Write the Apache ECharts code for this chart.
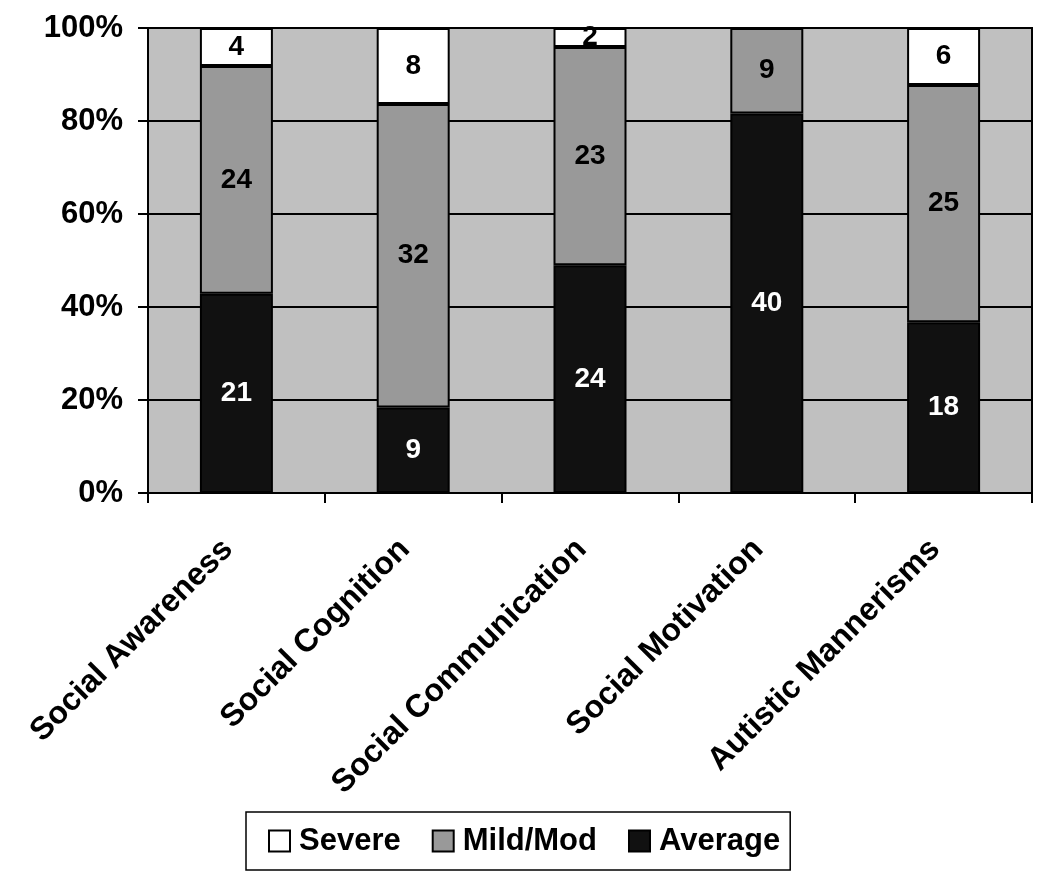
<!DOCTYPE html>
<html>
<head>
<meta charset="utf-8">
<script src="https://cdn.jsdelivr.net/npm/echarts@6/dist/echarts.min.js"></script>
<style>html,body{margin:0;padding:0;background:#fff}#c{width:1050px;height:887px}</style>
</head>
<body>
<div id="c"></div>
<script>
const categories = ['Social Awareness', 'Social Cognition', 'Social Communication', 'Social Motivation', 'Autistic Mannerisms'];
const averageCounts = [21, 9, 24, 40, 18];
const mildModCounts = [24, 32, 23, 9, 25];
const severeCounts = [4, 8, 2, 0, 6];
const yTicks = [0, 20, 40, 60, 80, 100];

const totals = categories.map((_, i) => averageCounts[i] + mildModCounts[i] + severeCounts[i]);
const toPct = arr => arr.map((v, i) => ({ value: v / totals[i] * 100, count: v }));

const FONT = '"Liberation Sans", Arial, sans-serif';
const chart = echarts.init(document.getElementById('c'), null, { renderer: 'canvas' });

function series(name, counts, color, labelColor) {
  return {
    name, type: 'bar', stack: 'total',
    data: toPct(counts),
    barWidth: 73,
    itemStyle: { color, borderColor: '#000', borderWidth: 2 },
    label: {
      show: true, position: 'inside', color: labelColor,
      fontFamily: FONT, fontWeight: 'bold', fontSize: 28,
      formatter: p => p.data.count ? String(p.data.count) : ''
    },
    emphasis: { disabled: true },
    animation: false
  };
}

chart.setOption({
  animation: false,
  backgroundColor: '#fff',
  grid: {
    left: 148, right: 18, top: 28, bottom: 394,
    show: true, backgroundColor: '#c0c0c0', borderColor: '#000', borderWidth: 2
  },
  legend: {
    data: ['Severe', 'Mild/Mod', 'Average'],
    left: 246, top: 812,
    orient: 'horizontal',
    backgroundColor: '#fff',
    borderColor: '#000', borderWidth: 1.5,
    padding: [10, 10, 10, 22],
    itemWidth: 21, itemHeight: 21, itemGap: 31,
    icon: 'rect',
    textStyle: { fontFamily: FONT, fontWeight: 'bold', fontSize: 31, color: '#000', padding: [6, 0, 0, 4], lineHeight: 32 },
    itemStyle: { borderColor: '#000', borderWidth: 2 }
  },
  xAxis: {
    type: 'category', data: categories,
    axisLine: { lineStyle: { color: '#000', width: 2 } },
    axisTick: { show: true, length: 10, lineStyle: { color: '#000', width: 2 } },
    axisLabel: {
      rotate: 45, margin: 43, color: '#000', padding: [0, 12, 0, 0],
      fontFamily: FONT, fontWeight: 'bold', fontSize: 32, interval: 0
    }
  },
  yAxis: {
    type: 'value', min: 0, max: 100, interval: 20,
    axisLine: { show: true, lineStyle: { color: '#000', width: 2 } },
    axisTick: { show: true, length: 10, lineStyle: { color: '#000', width: 2 } },
    axisLabel: {
      formatter: v => yTicks.includes(v) ? v + '%' : '',
      margin: 25, color: '#000',
      fontFamily: FONT, fontWeight: 'bold', fontSize: 31
    },
    splitLine: { show: true, lineStyle: { color: '#000', width: 2 } }
  },
  series: [
    series('Average', averageCounts, '#111111', '#fff'),
    series('Mild/Mod', mildModCounts, '#999999', '#000'),
    series('Severe', severeCounts, '#ffffff', '#000')
  ]
});
</script>
</body>
</html>
